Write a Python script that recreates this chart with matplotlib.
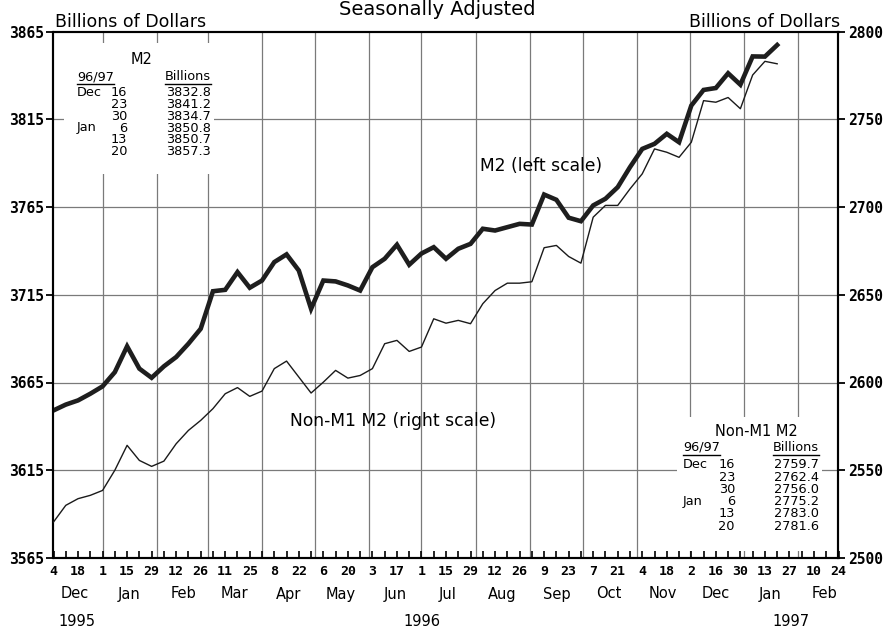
import matplotlib
matplotlib.use('Agg')
import matplotlib.pyplot as plt
import matplotlib.dates as mdates
import matplotlib.transforms as mtransforms
from matplotlib.patches import Rectangle
from matplotlib.lines import Line2D
from matplotlib.ticker import FixedLocator, FuncFormatter
import pandas as pd

# ---------------- data ----------------
week_start = '1995-12-04'
n_weeks = 60
weeks = pd.date_range(week_start, periods=n_weeks, freq='7D')

m2 = [3649.1, 3652.4, 3654.8, 3658.6, 3662.8, 3670.9, 3685.6, 3672.9, 3667.7, 3674.2,
      3679.5, 3687.1, 3695.6, 3717.0, 3717.8, 3727.9, 3719.0, 3723.1, 3733.6, 3738.0,
      3728.8, 3707.0, 3723.1, 3722.6, 3720.3, 3717.4, 3730.7, 3735.5, 3743.5, 3732.1,
      3738.5, 3742.1, 3735.5, 3741.2, 3744.0, 3752.6, 3751.6, 3753.5, 3755.4, 3755.0,
      3772.1, 3769.1, 3758.9, 3756.9, 3765.9, 3769.7, 3776.3, 3787.7, 3798.1, 3801.0,
      3806.7, 3801.9, 3822.8, 3831.7, 3832.8, 3841.2, 3834.7, 3850.8, 3850.7, 3857.3]

non_m1_m2 = [2520.5, 2530.0, 2533.8, 2535.7, 2538.5, 2550.0, 2564.2, 2555.6, 2552.2, 2555.2,
             2565.1, 2572.7, 2578.4, 2585.1, 2593.6, 2597.1, 2592.1, 2595.1, 2607.9, 2612.2,
             2603.1, 2594.0, 2600.2, 2606.9, 2602.5, 2604.0, 2607.9, 2622.1, 2624.0, 2617.7,
             2620.2, 2636.3, 2633.8, 2635.4, 2633.5, 2644.9, 2652.4, 2656.6, 2656.6, 2657.4,
             2676.8, 2678.1, 2671.8, 2668.0, 2694.2, 2700.9, 2700.9, 2710.3, 2718.9, 2733.1,
             2731.2, 2728.3, 2736.9, 2760.6, 2759.7, 2762.4, 2756.0, 2775.2, 2783.0, 2781.6]

left_ticks = [3565, 3615, 3665, 3715, 3765, 3815, 3865]
right_ticks = [2500, 2550, 2600, 2650, 2700, 2750, 2800]
x_start, x_end = '1995-12-04', '1997-02-24'

tbl_months = ['Dec', '', '', 'Jan', '', '']
tbl_days = ['16', '23', '30', '6', '13', '20']
tbl_m2 = ['3832.8', '3841.2', '3834.7', '3850.8', '3850.7', '3857.3']
tbl_nonm1 = ['2759.7', '2762.4', '2756.0', '2775.2', '2783.0', '2781.6']

# ---------------- figure ----------------
W, H = 887, 628
fig = plt.figure(figsize=(W / 100, H / 100), dpi=100)
fig.patch.set_facecolor('white')

AX_L, AX_R, AX_T, AX_B = 53.5, 838.5, 31.5, 558.0
ax = fig.add_axes([AX_L / W, 1 - AX_B / H, (AX_R - AX_L) / W, (AX_B - AX_T) / H])
ax2 = ax.twinx()

def fx(x):
    return x / W

def fy(y):
    return 1 - y / H

TXT = 'DejaVu Sans'
NUM = 'DejaVu Sans Mono'

xs = mdates.date2num(weeks)
x0, x1 = mdates.date2num(pd.Timestamp(x_start)), mdates.date2num(pd.Timestamp(x_end))

ax.set_xlim(x0, x1)
ax.set_ylim(left_ticks[0], left_ticks[-1])
ax2.set_ylim(right_ticks[0], right_ticks[-1])

# grid: horizontal at value ticks, vertical at month starts
for v in left_ticks[1:-1]:
    ax.axhline(v, color='#7a7a7a', lw=0.9, zorder=1)
for d in pd.date_range('1996-01-01', '1997-02-01', freq='MS'):
    ax.axvline(mdates.date2num(d), color='#7a7a7a', lw=0.9, zorder=1)

# white boxes behind the tables
def axfrac_rect(px0, py0, px1, py1):
    xa = (px0 - AX_L) / (AX_R - AX_L)
    xb = (px1 - AX_L) / (AX_R - AX_L)
    ya = 1 - (py1 - AX_T) / (AX_B - AX_T)
    yb = 1 - (py0 - AX_T) / (AX_B - AX_T)
    return Rectangle((xa, ya), xb - xa, yb - ya, transform=ax.transAxes,
                     facecolor='white', edgecolor='none', zorder=2)

ax.add_patch(axfrac_rect(64, 43, 214, 174))
ax.add_patch(axfrac_rect(677, 417, 822, 551))

# series
ax.plot(xs, m2, color='#1e1e1e', lw=3.3, solid_joinstyle='miter', zorder=5)
ax2.plot(xs, non_m1_m2, color='#1a1a1a', lw=1.0, zorder=5)

# spines
for a in (ax, ax2):
    for s in a.spines.values():
        s.set_linewidth(1.5)
        s.set_color('black')

# y ticks
ax.set_yticks(left_ticks)
ax.set_yticklabels([str(v) for v in left_ticks], fontfamily=NUM, fontweight='bold', fontsize=10.5)
ax.tick_params(axis='y', direction='out', length=5, width=1.3, pad=2)
ax2.set_yticks(right_ticks)
ax2.set_yticklabels([str(v) for v in right_ticks], fontfamily=NUM, fontweight='bold', fontsize=10.5)
ax2.tick_params(axis='y', direction='out', length=5, width=1.3, pad=2)

# x ticks
major = mdates.date2num(pd.date_range(x_start, x_end, freq='14D'))
minor = mdates.date2num(pd.date_range(x_start, x_end, freq='7D'))
ax.xaxis.set_major_locator(FixedLocator(major))
ax.xaxis.set_minor_locator(FixedLocator(minor))
ax.xaxis.set_major_formatter(FuncFormatter(lambda v, p: str(mdates.num2date(v).day)))
ax.tick_params(axis='x', which='both', direction='in', length=5, width=1.2, pad=5)
for lab in ax.get_xticklabels():
    lab.set_fontfamily(NUM)
    lab.set_fontweight('bold')
    lab.set_fontsize(9.5)

# month and year labels
bt = mtransforms.blended_transform_factory(ax.transData, fig.transFigure)
for ms in pd.date_range('1995-12-01', '1997-02-01', freq='MS'):
    mid = mdates.date2num(ms + pd.Timedelta(days=15))
    ax.text(mid, fy(594), ms.strftime('%b'), transform=bt, ha='center', va='center',
            fontfamily=TXT, fontsize=10.5, clip_on=False)
for yr in (1995, 1996, 1997):
    a = max(pd.Timestamp(f'{yr}-01-01'), pd.Timestamp(x_start))
    b = min(pd.Timestamp(f'{yr}-12-31'), pd.Timestamp(x_end))
    mid = (mdates.date2num(a) + mdates.date2num(b)) / 2
    ax.text(mid, fy(621), str(yr), transform=bt, ha='center', va='center',
            fontfamily=TXT, fontsize=10.5, clip_on=False)

# titles / axis units
fig.text(fx(437), fy(15), 'Seasonally Adjusted', ha='center', va='baseline',
         fontfamily=TXT, fontsize=14)
fig.text(fx(55), fy(27), 'Billions of Dollars', ha='left', va='baseline',
         fontfamily=TXT, fontsize=12.5)
fig.text(fx(840), fy(27), 'Billions of Dollars', ha='right', va='baseline',
         fontfamily=TXT, fontsize=12.5)

# series labels
fig.text(fx(480), fy(166), 'M2 (left scale)', ha='left', va='center',
         fontfamily=TXT, fontsize=12.3)
fig.text(fx(290), fy(421), 'Non-M1 M2 (right scale)', ha='left', va='center',
         fontfamily=TXT, fontsize=12.3)

# tables
TFS = 9.3
underlined = []
def draw_table(title, tx, ty, left_x, day_x, val_x, head_y, row_y0, row_dy, vals):
    fig.text(fx(tx), fy(ty), title, ha='center', va='center', fontfamily=TXT, fontsize=10.5)
    h1 = fig.text(fx(left_x), fy(head_y), '96/97', ha='left', va='center', fontfamily=TXT, fontsize=TFS)
    h2 = fig.text(fx(val_x), fy(head_y), 'Billions', ha='right', va='center', fontfamily=TXT, fontsize=TFS)
    underlined.extend([h1, h2])
    for i in range(len(vals)):
        yy = fy(row_y0 + i * row_dy)
        if tbl_months[i]:
            fig.text(fx(left_x), yy, tbl_months[i], ha='left', va='center', fontfamily=TXT, fontsize=TFS)
        fig.text(fx(day_x), yy, tbl_days[i], ha='right', va='center', fontfamily=TXT, fontsize=TFS)
        fig.text(fx(val_x), yy, vals[i], ha='right', va='center', fontfamily=TXT, fontsize=TFS)

draw_table('M2', 142, 60, 77, 127, 211, 77, 92, 12.0, tbl_m2)
draw_table('Non-M1 M2', 756, 432, 683, 735, 819, 447.5, 465, 12.2, tbl_nonm1)

fig.canvas.draw()
r = fig.canvas.get_renderer()
for t in underlined:
    bb = t.get_window_extent(r)
    yline = (bb.y0 - 0.5) / fig.bbox.height
    fig.add_artist(Line2D([bb.x0 / fig.bbox.width, bb.x1 / fig.bbox.width], [yline, yline],
                          transform=fig.transFigure, color='black', lw=1.0))

fig.savefig('out.png', dpi=100)
